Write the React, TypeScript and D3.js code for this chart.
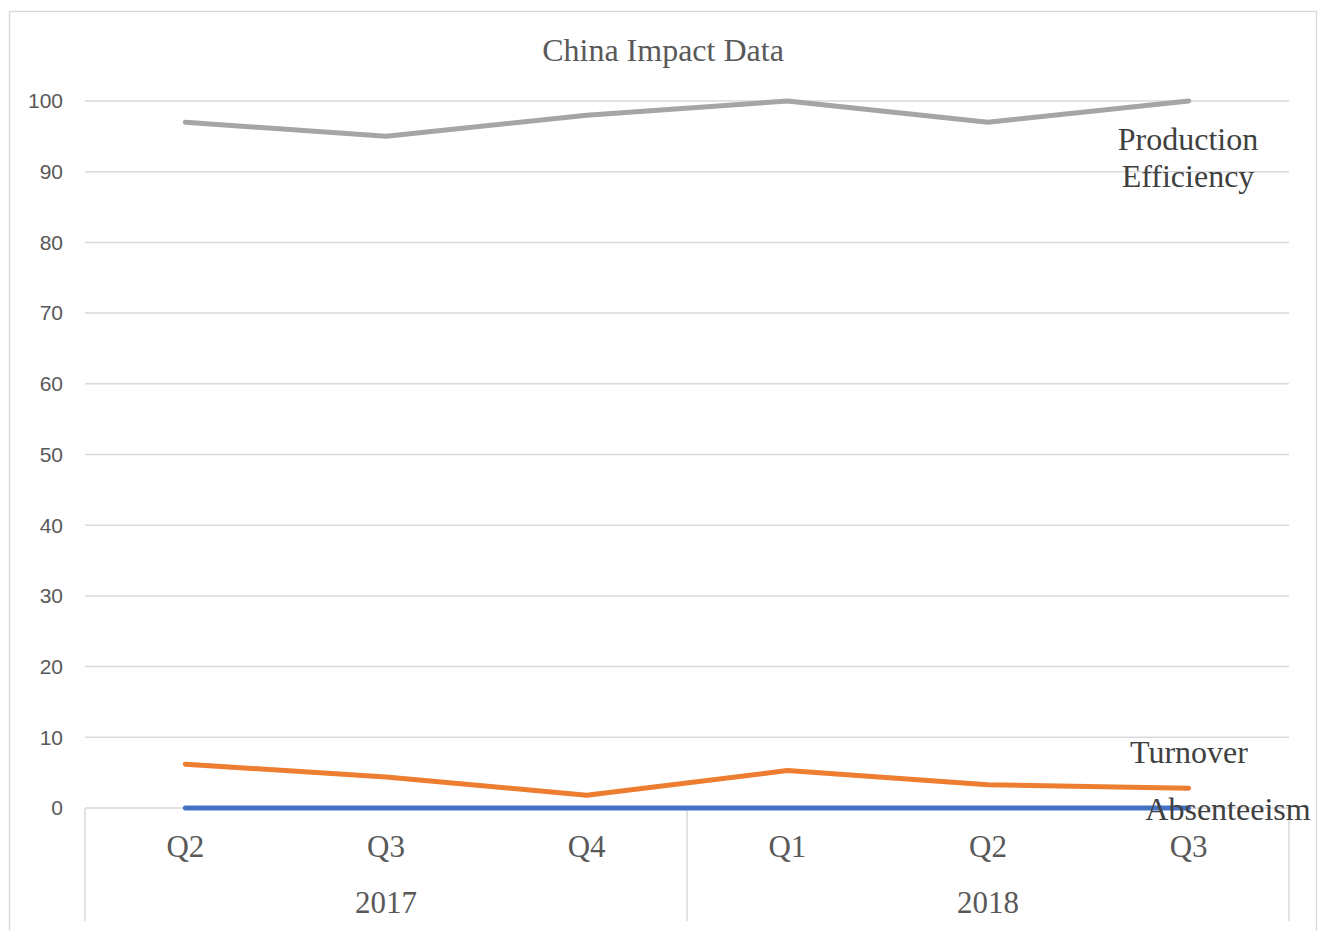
import React, { useEffect, useRef } from "react";
import * as d3 from "d3";

const quarters = ["Q2", "Q3", "Q4", "Q1", "Q2", "Q3"];
const years = ["2017", "2018"];
const yearSpans = [3, 3];
const productionEfficiency = [97, 95, 98, 100, 97, 100];
const turnover = [6.2, 4.4, 1.8, 5.3, 3.3, 2.8];
const absenteeism = [0, 0, 0, 0, 0, 0];
const yTicks = [0, 10, 20, 30, 40, 50, 60, 70, 80, 90, 100];

const W = 1319;
const H = 931;
const plot = { left: 85, right: 1289, top: 101, bottom: 808 };

export default function App() {
  const ref = useRef<SVGSVGElement | null>(null);

  useEffect(() => {
    const svg = d3.select(ref.current);
    svg.selectAll("*").remove();

    const x = d3
      .scaleBand<number>()
      .domain(d3.range(quarters.length))
      .range([plot.left, plot.right])
      .paddingInner(0)
      .paddingOuter(0);
    const y = d3.scaleLinear().domain([0, 100]).range([plot.bottom, plot.top]);
    const cx = (i: number) => (x(i) as number) + x.bandwidth() / 2;
    const serif = "'Liberation Serif', 'Times New Roman', serif";

    // chart frame
    svg
      .append("rect")
      .attr("x", 9.5)
      .attr("y", 11.5)
      .attr("width", 1307)
      .attr("height", 940)
      .attr("fill", "#fff")
      .attr("stroke", "#D9D9D9")
      .attr("stroke-width", 1.3);

    // title
    svg
      .append("text")
      .attr("x", 663)
      .attr("y", 61)
      .attr("text-anchor", "middle")
      .attr("font-family", serif)
      .attr("font-size", 32)
      .attr("fill", "#595959")
      .text("China Impact Data");

    // gridlines
    svg
      .append("g")
      .selectAll("line")
      .data(yTicks)
      .join("line")
      .attr("x1", plot.left)
      .attr("x2", plot.right)
      .attr("y1", (d) => y(d))
      .attr("y2", (d) => y(d))
      .attr("stroke", "#D9D9D9")
      .attr("stroke-width", 1.5);

    // y tick labels
    svg
      .append("g")
      .selectAll("text")
      .data(yTicks)
      .join("text")
      .attr("x", 63)
      .attr("y", (d) => y(d))
      .attr("dy", "0.35em")
      .attr("text-anchor", "end")
      .attr("font-family", "'Liberation Sans', Arial, sans-serif")
      .attr("font-size", 21)
      .attr("fill", "#595959")
      .text((d) => String(d));

    // category axis separators
    const sepIdx: number[] = [0];
    let acc = 0;
    yearSpans.forEach((s) => {
      acc += s;
      sepIdx.push(acc);
    });
    const sepX = (k: number) =>
      k >= quarters.length ? plot.right : (x(k) as number);
    svg
      .append("g")
      .selectAll("line")
      .data(sepIdx)
      .join("line")
      .attr("x1", (k) => sepX(k))
      .attr("x2", (k) => sepX(k))
      .attr("y1", plot.bottom)
      .attr("y2", 921)
      .attr("stroke", "#D9D9D9")
      .attr("stroke-width", 1.5);

    // quarter labels
    svg
      .append("g")
      .selectAll("text")
      .data(quarters)
      .join("text")
      .attr("x", (_, i) => cx(i))
      .attr("y", 857)
      .attr("text-anchor", "middle")
      .attr("font-family", serif)
      .attr("font-size", 31)
      .attr("fill", "#595959")
      .text((d) => d);

    // year labels
    svg
      .append("g")
      .selectAll("text")
      .data(years)
      .join("text")
      .attr("x", (_, i) => (sepX(sepIdx[i]) + sepX(sepIdx[i + 1])) / 2)
      .attr("y", 913)
      .attr("text-anchor", "middle")
      .attr("font-family", serif)
      .attr("font-size", 31)
      .attr("fill", "#595959")
      .text((d) => d);

    // series lines
    const line = d3
      .line<number>()
      .x((_, i) => cx(i))
      .y((d) => y(d));
    const series = [
      { values: absenteeism, color: "#4472C4" },
      { values: turnover, color: "#ED7D31" },
      { values: productionEfficiency, color: "#A5A5A5" },
    ];
    svg
      .append("g")
      .selectAll("path")
      .data(series)
      .join("path")
      .attr("d", (s) => line(s.values))
      .attr("fill", "none")
      .attr("stroke", (s) => s.color)
      .attr("stroke-width", 5)
      .attr("stroke-linecap", "round")
      .attr("stroke-linejoin", "round");

    // series labels
    const labels = [
      { lines: ["Production", "Efficiency"], x: 1188, y: 150 },
      { lines: ["Turnover"], x: 1189, y: 763 },
      { lines: ["Absenteeism"], x: 1228, y: 820 },
    ];
    labels.forEach((l) => {
      const t = svg
        .append("text")
        .attr("text-anchor", "middle")
        .attr("font-family", serif)
        .attr("font-size", 32)
        .attr("fill", "#404040");
      l.lines.forEach((s, k) => {
        t.append("tspan")
          .attr("x", l.x)
          .attr("y", l.y + k * 37)
          .text(s);
      });
    });
  }, []);

  return (
    <svg
      ref={ref}
      width={W}
      height={H}
      style={{ position: "absolute", left: 0, top: 0, display: "block", background: "#fff" }}
    />
  );
}
